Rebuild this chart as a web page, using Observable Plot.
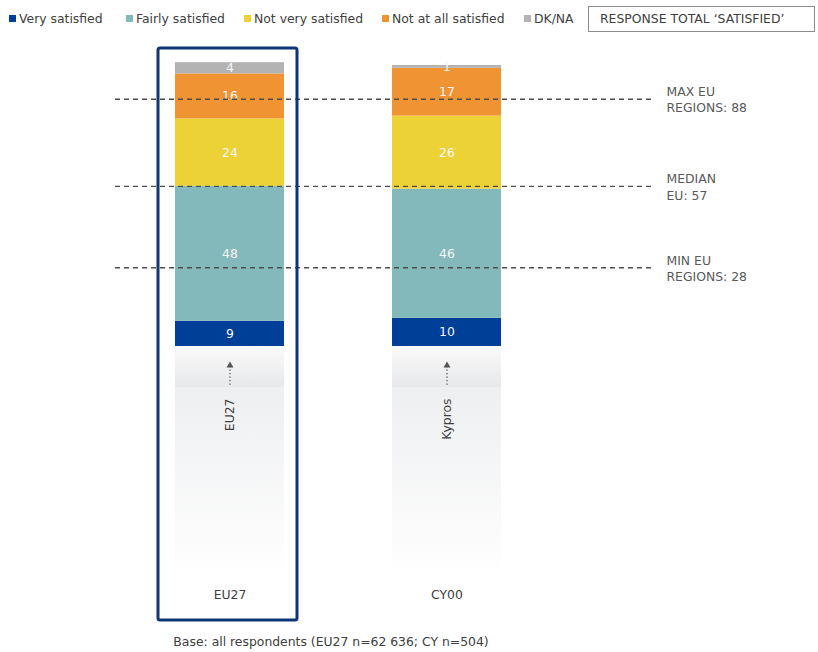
<!DOCTYPE html>
<html>
<head>
<meta charset="utf-8">
<script src="https://cdn.jsdelivr.net/npm/d3@7"></script>
<script src="https://cdn.jsdelivr.net/npm/@observablehq/plot@0.6"></script>
<style>
  html, body { margin: 0; padding: 0; background: #fff; }
  body { width: 818px; height: 652px; position: relative; overflow: hidden; font-family: "DejaVu Sans", Verdana, sans-serif; color: #404040; }
  #legend { position: absolute; left: 0; top: 0; width: 818px; height: 40px; font-size: 12.4px; }
  .li { position: absolute; top: 12px; white-space: nowrap; line-height: 14px; }
  .sw { display: inline-block; width: 7px; height: 7px; margin-right: 3px; vertical-align: 1px; }
  #totalbox { position: absolute; left: 588px; top: 6px; width: 227px; height: 26px; border: 1px solid #8c8c8c; box-sizing: border-box; font-size: 12.4px; line-height: 24px; padding-left: 11px; white-space: nowrap; }
  #chart { position: absolute; left: 0; top: 40px; }
  #caption { position: absolute; left: 0; width: 662px; top: 634px; text-align: center; font-size: 12.4px; color: #404040; }
</style>
</head>
<body>
<div id="legend"></div>
<div id="chart"></div>
<div id="caption"></div>
<script>
// ---- data ----
const categories = ["EU27", "CY00"];
const rotatedNames = ["EU27", "Kypros"];
const seriesNames = ["Very satisfied", "Fairly satisfied", "Not very satisfied", "Not at all satisfied", "DK/NA"];
const seriesColors = ["#003f97", "#84b9bb", "#ecd236", "#f09433", "#b3b3b3"];
const veryValues = [9, 10];
const fairlyValues = [48, 46];
const notVeryValues = [24, 26];
const notAtAllValues = [16, 17];
const dkValues = [4, 1];
const refValues = [88, 57, 28];
const refLabels = ["MAX EU\nREGIONS: 88", "MEDIAN\nEU: 57", "MIN EU\nREGIONS: 28"];
const highlighted = "EU27";
const totalLabel = "RESPONSE TOTAL \u2018SATISFIED\u2019";
const captionText = "Base: all respondents (EU27 n=62 636; CY n=504)";

// ---- legend ----
const legendX = [9, 126, 244, 382, 524];
const legend = document.getElementById("legend");
seriesNames.forEach((n, i) => {
  const d = document.createElement("div");
  d.className = "li";
  d.style.left = legendX[i] + "px";
  d.innerHTML = `<span class="sw" style="background:${seriesColors[i]}"></span>${n}`;
  legend.appendChild(d);
});
const tb = document.createElement("div");
tb.id = "totalbox";
tb.textContent = totalLabel;
legend.appendChild(tb);
document.getElementById("caption").textContent = captionText;

// ---- table ----
const seriesValues = [veryValues, fairlyValues, notVeryValues, notAtAllValues, dkValues];
const rows = [];
categories.forEach((c, ci) => {
  seriesNames.forEach((s, si) => rows.push({cat: c, series: s, value: seriesValues[si][ci]}));
});
const refs = refValues.map((v, i) => ({v, label: refLabels[i]}));
const cats = categories.map((c, i) => ({cat: c, name: rotatedNames[i]}));

const H = 590, MT = 25, MB = 284;
const frameH = H - MT - MB; // 281
const textFont = "DejaVu Sans, Verdana, sans-serif";

const plot = Plot.plot({
  width: 818,
  height: H,
  marginLeft: 66,
  marginRight: 208,
  marginTop: MT,
  marginBottom: MB,
  style: {fontFamily: textFont, fontSize: "12px", color: "#404040", background: "transparent"},
  x: {type: "band", domain: categories, padding: 0.5, label: null},
  y: {domain: [0, 100], axis: null},
  color: {domain: seriesNames, range: seriesColors},
  marks: [
    // gradient panels below the bars
    Plot.cell(cats, {x: "cat", fill: "url(#gradTop)", insetTop: frameH, insetBottom: -41}),
    Plot.cell(cats, {x: "cat", fill: "url(#gradBottom)", insetTop: frameH + 41, insetBottom: -232}),
    // dotted arrow
    Plot.ruleX(cats, {x: "cat", stroke: "#555", strokeWidth: 1.3, strokeDasharray: "1.3,2.2", insetTop: frameH + 20, insetBottom: -39}),
    Plot.dot(cats, {x: "cat", frameAnchor: "bottom", dy: 19, symbol: "triangle", r: 2.6, fill: "#555", stroke: "none"}),
    Plot.text(cats, {x: "cat", text: "name", frameAnchor: "bottom", dy: 52, rotate: -90, textAnchor: "end", lineAnchor: "middle", fill: "#404040", fontSize: 12.4}),
    // bars
    Plot.barY(rows, {x: "cat", y: "value", fill: "series", order: seriesNames}),
    Plot.text(rows, Plot.stackY({x: "cat", y: "value", z: "series", order: seriesNames, text: "value", fill: "#f4f6f6", fontSize: 12.4})),
    // reference lines
    Plot.ruleY(refs, {y: "v", stroke: "#4d4d4d", strokeWidth: 1.4, strokeDasharray: "5,4", insetLeft: 49, insetRight: -42}),
    Plot.text(refs, {y: "v", text: "label", frameAnchor: "right", dx: 56, textAnchor: "start", lineAnchor: "middle", lineHeight: 1.3, fill: "#595959", fontSize: 12.4}),
    // highlight box
    Plot.cell([highlighted], {x: d => d, fill: "none", stroke: "#0d3677", strokeWidth: 3, rx: 2, insetLeft: -17, insetRight: -13, insetTop: -17, insetBottom: -274}),
    // bottom category labels
    Plot.axisX({tickSize: 0, tickPadding: 244, fontSize: 12.4, fill: "#404040", label: null})
  ]
});

// gradients
const svg = d3.select(plot);
const defs = svg.insert("defs", ":first-child");
const g1 = defs.append("linearGradient").attr("id", "gradTop").attr("x1", 0).attr("x2", 0).attr("y1", 0).attr("y2", 1);
g1.append("stop").attr("offset", "0%").attr("stop-color", "#fafafa");
g1.append("stop").attr("offset", "100%").attr("stop-color", "#e7e8ea");
const g2 = defs.append("linearGradient").attr("id", "gradBottom").attr("x1", 0).attr("x2", 0).attr("y1", 0).attr("y2", 1);
g2.append("stop").attr("offset", "0%").attr("stop-color", "#eeeff1");
g2.append("stop").attr("offset", "100%").attr("stop-color", "#ffffff");

document.getElementById("chart").appendChild(plot);
</script>
</body>
</html>
